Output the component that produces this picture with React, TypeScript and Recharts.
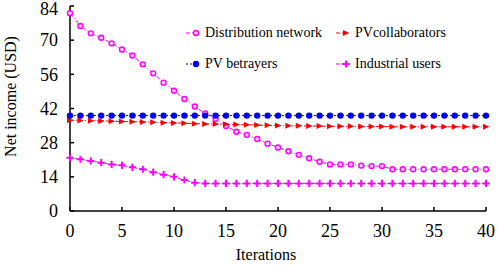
import React from 'react';
import { LineChart, Line, XAxis, YAxis, Legend } from 'recharts';

const iterations = [0, 1, 2, 3, 4, 5, 6, 7, 8, 9, 10, 11, 12, 13, 14, 15, 16, 17, 18, 19, 20, 21, 22, 23, 24, 25, 26, 27, 28, 29, 30, 31, 32, 33, 34, 35, 36, 37, 38, 39, 40];
const distributionNetwork = [81, 75.8, 72.8, 71, 68.7, 66.2, 63.7, 60.1, 56.4, 52.6, 49.3, 45.9, 42.8, 40, 37.7, 34.8, 32.5, 31.2, 29.5, 27.6, 26.0, 24.5, 23.0, 21.6, 20.2, 19.1, 19.1, 19.1, 18.6, 18.4, 18.4, 17.1, 17.1, 17.1, 17.1, 17.1, 17.1, 17.1, 17.1, 17.1, 17.1];
const pvCollaborators = [37.2, 37.1, 37.0, 36.9, 36.8, 36.7, 36.6, 36.5, 36.4, 36.2, 36.1, 36.0, 35.8, 35.7, 35.6, 35.5, 35.4, 35.3, 35.2, 35.1, 35.0, 34.9, 34.9, 34.8, 34.8, 34.7, 34.7, 34.7, 34.6, 34.6, 34.6, 34.5, 34.5, 34.5, 34.5, 34.5, 34.5, 34.5, 34.5, 34.5, 34.5];
const pvBetrayers = [39.1, 39.1, 39.1, 39.1, 39.1, 39.1, 39.1, 39.1, 39.1, 39.1, 39.1, 39.1, 39.1, 39.1, 39.1, 39.1, 39.1, 39.1, 39.1, 39.1, 39.1, 39.1, 39.1, 39.1, 39.1, 39.1, 39.1, 39.1, 39.1, 39.1, 39.1, 39.1, 39.1, 39.1, 39.1, 39.1, 39.1, 39.1, 39.1, 39.1, 39.1];
const industrialUsers = [21.8, 21.2, 20.5, 19.8, 19.1, 18.7, 17.9, 17.1, 15.9, 14.9, 14.0, 12.7, 11.6, 11.3, 11.3, 11.3, 11.3, 11.3, 11.3, 11.3, 11.3, 11.3, 11.3, 11.3, 11.3, 11.3, 11.3, 11.3, 11.3, 11.3, 11.3, 11.3, 11.3, 11.3, 11.3, 11.3, 11.3, 11.3, 11.3, 11.3, 11.3];

const xTicks = [0, 5, 10, 15, 20, 25, 30, 35, 40];
const yTicks = [0, 14, 28, 42, 56, 70, 84];

const data = iterations.map((it, i) => ({
  it,
  dist: distributionNetwork[i],
  collab: pvCollaborators[i],
  betray: pvBetrayers[i],
  ind: industrialUsers[i],
}));

const FONT = 'Liberation Serif, Times New Roman, serif';

// marker shapes, shared by the dots and the legend
const drawMarker = (kind: string, cx: number, cy: number, key?: string) => {
  switch (kind) {
    case 'circleOpen':
      return <circle key={key} cx={cx} cy={cy} r={2.5} fill="#ffd0ff" stroke="#ff00ff" strokeWidth={1.4} />;
    case 'triangle':
      return <path key={key} d={`M${cx - 3},${cy - 3} L${cx + 3.4},${cy} L${cx - 3},${cy + 3} Z`} fill="#ff0000" />;
    case 'dot':
      return <circle key={key} cx={cx} cy={cy} r={3.2} fill="#0000ff" />;
    case 'plus':
    default:
      return (
        <path key={key} d={`M${cx - 3.6},${cy} H${cx + 3.6} M${cx},${cy - 3.6} V${cy + 3.6}`} stroke="#ff00ff" strokeWidth={2} />
      );
  }
};

// legend reads row by row: dist, collab / betray, ind
const series = [
  { key: 'dist', name: 'Distribution network', color: '#ff00ff', marker: 'circleOpen', dash: '4 2 1 2' },
  { key: 'collab', name: 'PVcollaborators', color: '#ff0000', marker: 'triangle', dash: '4 2 1 2' },
  { key: 'betray', name: 'PV betrayers', color: '#0000ff', marker: 'dot', dash: '2 2' },
  { key: 'ind', name: 'Industrial users', color: '#ff00ff', marker: 'plus', dash: '3 2' },
];

const LegendBox = ({ payload }: any) => {
  const cols = [185, 335];
  const rows = [25, 56];
  const items = series.filter((s) => (payload || []).some((p: any) => p.value === s.name));
  return (
    <div style={{ position: 'relative', width: 498, height: 0 }}>
      {items.map((s, i) => (
        <div
          key={s.key}
          style={{
            position: 'absolute',
            left: cols[i % 2],
            top: rows[Math.floor(i / 2)],
            display: 'flex',
            alignItems: 'center',
            whiteSpace: 'nowrap',
            color: '#000',
            lineHeight: '16px',
          }}
        >
          <svg width={18} height={12} style={{ marginRight: 2 }}>
            <line x1={1} y1={6} x2={13} y2={6} stroke={s.color} strokeWidth={1} strokeDasharray={s.dash} />
            {drawMarker(s.marker, 11, 6)}
          </svg>
          <svg width={130} height={16}>
            <text x={0} y={12} fontFamily={FONT} fontSize={14} fill="#000">
              {s.name}
            </text>
          </svg>
        </div>
      ))}
    </div>
  );
};

const YTitle = ({ viewBox }: any) => {
  const cx = viewBox.x + 10;
  const cy = viewBox.y + viewBox.height / 2 - 12;
  return (
    <text x={cx} y={cy} transform={`rotate(-90 ${cx} ${cy})`} textAnchor="middle" dominantBaseline="central" fontFamily={FONT} fontSize={16} fill="#000">
      Net income (USD)
    </text>
  );
};

const XTitle = ({ viewBox }: any) => {
  const cx = viewBox.x + viewBox.width / 2 - 12;
  return (
    <text x={cx} y={260} textAnchor="middle" fontFamily={FONT} fontSize={16} fill="#000">
      Iterations
    </text>
  );
};

const XTick = ({ x, y, payload }: any) => (
  <text x={x} y={y} dy="0.71em" textAnchor="middle" fontFamily={FONT} fontSize={18} fill="#000">
    {payload.value}
  </text>
);

const YTick = ({ x, y, payload }: any) => (
  <text x={x} y={y} dy="0.35em" textAnchor="end" fontFamily={FONT} fontSize={18} fill="#000">
    {payload.value}
  </text>
);

export default function App() {
  return (
    <div style={{ position: 'absolute', left: 0, top: 0, background: '#fff' }}>
      <LineChart width={498} height={266} data={data} margin={{ top: 6, right: 12, bottom: 0, left: 0 }}>
        <XAxis
          xAxisId="b"
          dataKey="it"
          type="number"
          domain={[0, 40]}
          ticks={xTicks}
          height={55}
          tickSize={-4}
          tickMargin={17}
          tick={<XTick />}
          axisLine={{ stroke: '#000', strokeWidth: 1.5 }}
          tickLine={{ stroke: '#000', strokeWidth: 1.5 }}
          label={<XTitle />}
        />
        <XAxis
          xAxisId="t"
          orientation="top"
          dataKey="it"
          type="number"
          domain={[0, 40]}
          ticks={xTicks}
          height={0}
          tickSize={-4}
          tickFormatter={() => ''}
          axisLine={{ stroke: '#000', strokeWidth: 1.5 }}
          tickLine={{ stroke: '#000', strokeWidth: 1.5 }}
        />
        <YAxis
          yAxisId="l"
          type="number"
          domain={[0, 84]}
          ticks={yTicks}
          width={70}
          tickSize={-4}
          tickMargin={16}
          tick={<YTick />}
          axisLine={{ stroke: '#000', strokeWidth: 1.5 }}
          tickLine={{ stroke: '#000', strokeWidth: 1.5 }}
          label={<YTitle />}
        />
        <YAxis
          yAxisId="r"
          orientation="right"
          type="number"
          domain={[0, 84]}
          ticks={yTicks}
          width={0}
          tickSize={-4}
          tickFormatter={() => ''}
          axisLine={{ stroke: '#000', strokeWidth: 1.5 }}
          tickLine={{ stroke: '#000', strokeWidth: 1.5 }}
        />
        <Legend verticalAlign="middle" layout="horizontal" content={<LegendBox />} wrapperStyle={{ top: 0, left: 0, width: 498 }} />
        {series.map((s) => (
          <Line
            key={s.key}
            xAxisId="b"
            yAxisId="l"
            dataKey={s.key}
            name={s.name}
            stroke={s.color}
            strokeWidth={1}
            strokeDasharray={s.dash}
            isAnimationActive={false}
            dot={(p: any) => drawMarker(s.marker, p.cx, p.cy, `${s.key}-${p.index}`)}
            activeDot={false}
          />
        ))}
      </LineChart>
    </div>
  );
}
